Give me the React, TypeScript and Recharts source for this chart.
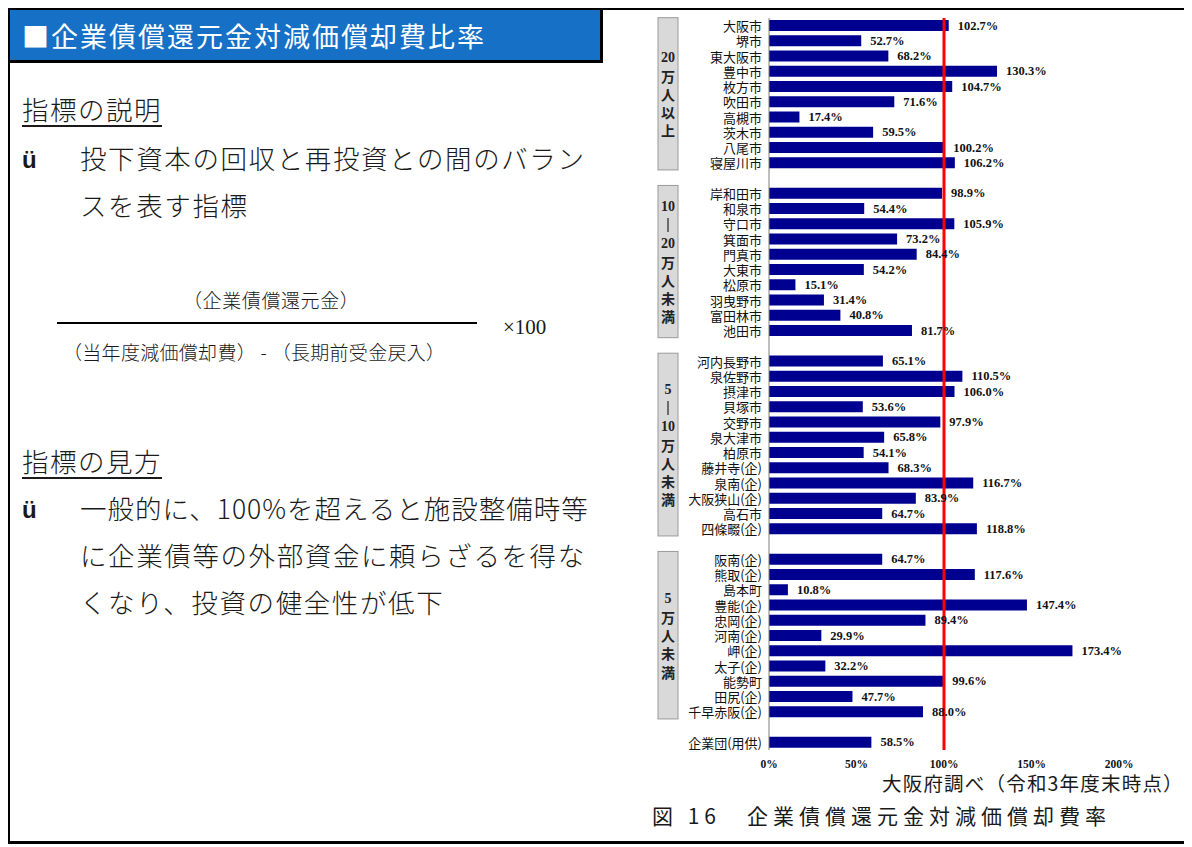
import React from "react";
import { BarChart, Bar, XAxis, YAxis, ReferenceLine, LabelList } from "recharts";

// 20万人以上
const cities20 = ["大阪市", "堺市", "東大阪市", "豊中市", "枚方市", "吹田市", "高槻市", "茨木市", "八尾市", "寝屋川市"];
const ratio20 = [102.7, 52.7, 68.2, 130.3, 104.7, 71.6, 17.4, 59.5, 100.2, 106.2];

// 10-20万人未満
const cities10 = ["岸和田市", "和泉市", "守口市", "箕面市", "門真市", "大東市", "松原市", "羽曳野市", "富田林市", "池田市"];
const ratio10 = [98.9, 54.4, 105.9, 73.2, 84.4, 54.2, 15.1, 31.4, 40.8, 81.7];

// 5-10万人未満
const cities5 = ["河内長野市", "泉佐野市", "摂津市", "貝塚市", "交野市", "泉大津市", "柏原市", "藤井寺(企)", "泉南(企)", "大阪狭山(企)", "高石市", "四條畷(企)"];
const ratio5 = [65.1, 110.5, 106.0, 53.6, 97.9, 65.8, 54.1, 68.3, 116.7, 83.9, 64.7, 118.8];

// 5万人未満
const citiesSmall = ["阪南(企)", "熊取(企)", "島本町", "豊能(企)", "忠岡(企)", "河南(企)", "岬(企)", "太子(企)", "能勢町", "田尻(企)", "千早赤阪(企)"];
const ratioSmall = [64.7, 117.6, 10.8, 147.4, 89.4, 29.9, 173.4, 32.2, 99.6, 47.7, 88.0];

const otherNames = ["企業団(用供)"];
const otherRatio = [58.5];

const groupCaptions = [
  ["20", "万", "人", "以", "上"],
  ["10", "｜", "20", "万", "人", "未", "満"],
  ["5", "｜", "10", "万", "人", "未", "満"],
  ["5", "万", "人", "未", "満"],
];

const xTicks = [0, 50, 100, 150, 200];

type Row = { id: string; name: string; value: number | null; group?: number; size?: number };

const groups = [
  { names: cities20, values: ratio20 },
  { names: cities10, values: ratio10 },
  { names: cities5, values: ratio5 },
  { names: citiesSmall, values: ratioSmall },
];

const rows: Row[] = [];
groups.forEach((g, gi) => {
  g.names.forEach((n, i) => {
    rows.push({
      id: `r${rows.length}`,
      name: n,
      value: g.values[i],
      group: i === 0 ? gi : undefined,
      size: g.names.length,
    });
  });
  rows.push({ id: `r${rows.length}`, name: "", value: null });
});
otherNames.forEach((n, i) => rows.push({ id: `r${rows.length}`, name: n, value: otherRatio[i] }));

const CHART_W = 552;
const CHART_H = 795;
const MARGIN = { top: 10, right: 73, bottom: 23, left: 0 };
const X_AXIS_H = 30;
const band = (CHART_H - MARGIN.top - MARGIN.bottom - X_AXIS_H) / rows.length;

const gothic = '"Noto Sans CJK JP", "Noto Sans", sans-serif';
const serif = '"Liberation Serif", "DejaVu Serif", serif';

function CityTick(props: any) {
  const { x, y, payload } = props;
  const row = rows.find((r) => r.id === payload.value);
  if (!row) return null;
  let box = null;
  if (row.group !== undefined) {
    const top = y - band * 0.52;
    const h = (row.size! - 1) * band + 15;
    const cap = groupCaptions[row.group];
    const step = 18.3;
    const mid = top + h / 2;
    box = (
      <g>
        <rect x={x - 104} y={top} width={20} height={h} fill="#d9d9d9" stroke="#9a9a9a" strokeWidth={1} />
        {cap.map((c, i) => {
          const cy = mid + (i - (cap.length - 1) / 2) * step;
          if (c === "｜") {
            return <line key={i} x1={x - 94} x2={x - 94} y1={cy - 7} y2={cy + 7} stroke="#222" strokeWidth={1.2} />;
          }
          const isNum = /[0-9]/.test(c);
          return (
            <text
              key={i}
              x={x - 94}
              y={cy}
              textAnchor="middle"
              dominantBaseline="central"
              fontFamily={isNum ? serif : gothic}
              fontWeight="bold"
              fontSize={isNum ? 14 : 14}
              fill="#222"
            >
              {c}
            </text>
          );
        })}
      </g>
    );
  }
  return (
    <g>
      {box}
      <text x={x} y={y} textAnchor="end" dominantBaseline="central" fontFamily={gothic} fontSize={13} fill="#111">
        {row.name}
      </text>
    </g>
  );
}

function ValueLabel(props: any) {
  const { x, y, width, height, value } = props;
  if (value == null || x == null) return null;
  return (
    <text
      x={x + width + 9}
      y={y + height / 2}
      dominantBaseline="central"
      fontFamily={serif}
      fontWeight="bold"
      fontSize={12.5}
      fill="#111"
    >
      {`${Number(value).toFixed(1)}%`}
    </text>
  );
}

const textStyle: React.CSSProperties = {
  position: "absolute",
  fontFamily: gothic,
  color: "#1a1a1a",
  whiteSpace: "nowrap",
  lineHeight: 1,
};

const bodyText: React.CSSProperties = { ...textStyle, left: 72, fontSize: 26.5, fontWeight: 300, letterSpacing: 1.6 };
const bullet: React.CSSProperties = {
  ...textStyle,
  left: 14,
  fontSize: 24,
  fontWeight: "bold",
  fontFamily: '"Liberation Sans", sans-serif',
};
const heading: React.CSSProperties = {
  ...textStyle,
  left: 14,
  fontSize: 26.5,
  fontWeight: 300,
  letterSpacing: 1.5,
  textDecoration: "underline",
  textDecorationThickness: 2,
  textUnderlineOffset: 5,
};

export default function App() {
  return (
    <div style={{ position: "relative", width: 1184, height: 839 }}>
      {/* outer frame */}
      <div
        style={{
          position: "absolute",
          left: -1,
          top: -1,
          width: 1184,
          height: 837,
          border: "3px solid #000",
          boxSizing: "border-box",
        }}
      />
      {/* header */}
      <div
        style={{
          position: "absolute",
          left: -1,
          top: -1,
          width: 596,
          height: 56,
          background: "#1570c6",
          border: "3px solid #000",
          boxSizing: "border-box",
        }}
      />
      <div style={{ ...textStyle, left: 14, top: 14, fontSize: 27, letterSpacing: 2, color: "#fff" }}>
        ■企業債償還元金対減価償却費比率
      </div>

      <div style={{ ...heading, top: 88 }}>指標の説明</div>
      <div style={{ ...bullet, top: 140 }}>ü</div>
      <div style={{ ...bodyText, top: 137 }}>投下資本の回収と再投資との間のバラン</div>
      <div style={{ ...bodyText, top: 184 }}>スを表す指標</div>

      <div style={{ ...textStyle, left: 175, top: 282, fontSize: 19, fontWeight: 300, letterSpacing: 0.6 }}>（企業債償還元金）</div>
      <div style={{ position: "absolute", left: 49, top: 314, width: 420, height: 2, background: "#000" }} />
      <div style={{ ...textStyle, left: 495, top: 309, fontSize: 21, fontFamily: serif }}>×100</div>
      <div style={{ ...textStyle, left: 55, top: 334, fontSize: 19, fontWeight: 300, letterSpacing: 0.3 }}>
        （当年度減価償却費） - （長期前受金戻入）
      </div>

      <div style={{ ...heading, top: 440 }}>指標の見方</div>
      <div style={{ ...bullet, top: 490 }}>ü</div>
      <div style={{ ...bodyText, top: 487, letterSpacing: 1.0 }}>一般的に、100%を超えると施設整備時等</div>
      <div style={{ ...bodyText, top: 534 }}>に企業債等の外部資金に頼らざるを得な</div>
      <div style={{ ...bodyText, top: 581 }}>くなり、投資の健全性が低下</div>

      {/* chart */}
      <div style={{ position: "absolute", left: 632, top: 0 }}>
        <BarChart width={CHART_W} height={CHART_H} data={rows} layout="vertical" margin={MARGIN}>
          <XAxis
            type="number"
            domain={[0, 200]}
            ticks={xTicks}
            tickFormatter={(v) => `${v}%`}
            axisLine={false}
            tickLine={false}
            tickSize={0}
            tickMargin={10}
            height={X_AXIS_H}
            tick={{ fontSize: 11.5, fontWeight: "bold", fontFamily: serif, fill: "#111" }}
          />
          <YAxis
            type="category"
            dataKey="id"
            width={129}
            interval={0}
            axisLine={{ stroke: "#7f7f7f", strokeWidth: 1 }}
            tickLine={false}
            tickSize={0}
            tickMargin={7}
            tick={<CityTick />}
          />
          <Bar dataKey="value" fill="#000090" barSize={11} isAnimationActive={false}>
            <LabelList dataKey="value" content={<ValueLabel />} />
          </Bar>
          <ReferenceLine x={100} stroke="#ff0000" strokeWidth={3} />
        </BarChart>
      </div>

      <div style={{ ...textStyle, left: 874, top: 765, fontSize: 19.5, letterSpacing: 1.2 }}>大阪府調べ（令和3年度末時点）</div>
      <div style={{ ...textStyle, left: 644, top: 797, fontSize: 21, letterSpacing: 5 }}>図 16　企業債償還元金対減価償却費率</div>
    </div>
  );
}
